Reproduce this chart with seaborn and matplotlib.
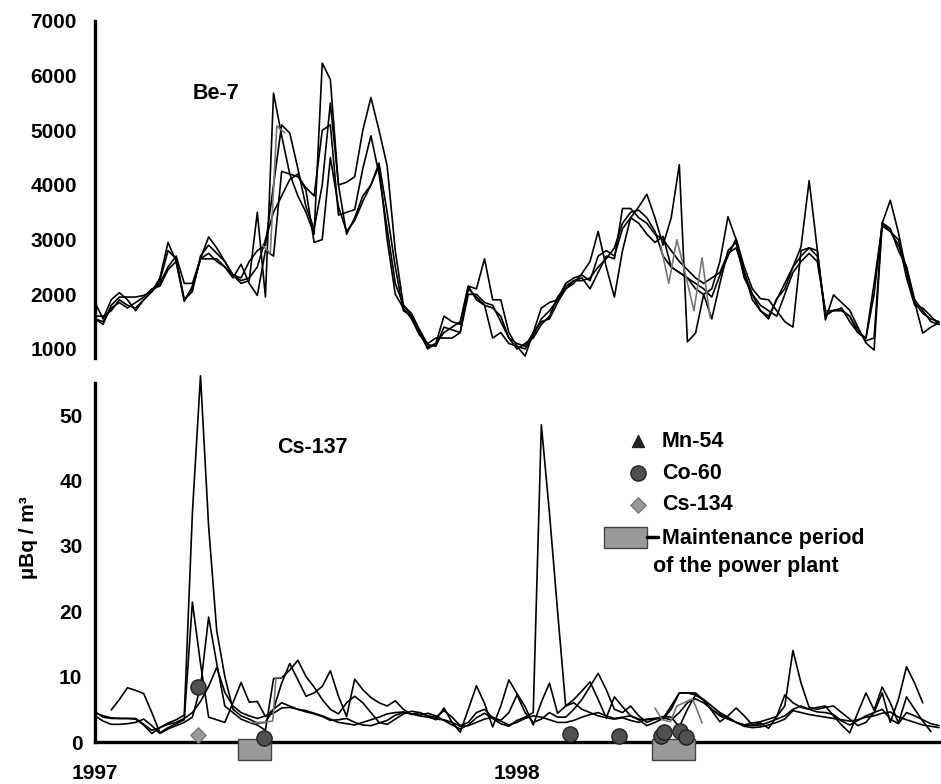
import numpy as np
import pandas as pd
import matplotlib
matplotlib.use("Agg")
import matplotlib.pyplot as plt
import seaborn as sns
from matplotlib.patches import Rectangle

nan = np.nan

# ---------------- data (weekly samples, week 0 = start of 1997) ----------------
weeks = list(range(105))

be7_a = [1850, 1550, 1900, 2030, 1900, 1700, 1900, 2050, 2300, 2950,
         2600, 1870, 2150, 2650, 3050, 2850, 2600, 2350, 2200, 2250,
         3500, 1950, 5680, 4900, 4200, 3800, 3500, 3100, 6230, 5930,
         4000, 4050, 4150, 5000, 5600, 5000, 4350, 2800, 1800, 1600,
         1300, 1030, 1100, 1600, 1500, 1450, 2150, 2100, 2650, 1900,
         1900, 1300, 1050, 870, 1300, 1750, 1850, 1900, 2100, 2200,
         2380, 2600, 3150, 2500, 1950, 2800, 3400, 3600, 3830, 3400,
         2900, 3400, 4370, 1130, 1290, 2000, 2100, 2600, 3420, 3000,
         2400, 1900, 1700, 1550, 1920, 2100, 2500, 2870, 4080, 2820,
         1530, 1990, 1850, 1710, 1400, 1110, 980, 3300, 3720, 3130,
         2400, 1860, 1290, 1400, 1480]
be7_b = [1550, 1450, 1800, 1950, 1950, 1950, 1980, 2050, 2250, 2800,
         2650, 1900, 2050, 2700, 2900, 2750, 2600, 2350, 2300, 2600,
         2800, 2900, 4000, 5100, 4950, 4300, 3600, 3200, 4000, 5500,
         4000, 3100, 3400, 3800, 4000, 4350, 3000, 2000, 1750, 1550,
         1250, 1100, 1200, 1200, 1200, 1300, 2100, 1950, 1800, 1200,
         1300, 1100, 1050, 1000, 1250, 1550, 1700, 1900, 2200, 2300,
         2350, 2250, 2700, 2800, 2700, 3200, 3400, 3300, 3100, 2950,
         3060, 2500, 2400, 2300, 2200, 2100, 1950, 2350, 2700, 3020,
         2500, 2100, 1920, 1900, 1700, 1500, 1400, 2800, 2850, 2800,
         1600, 1710, 1710, 1600, 1350, 1150, 1200, 3310, 3200, 2800,
         2500, 1900, 1700, 1500, 1450]
be7_c = [1600, 1600, 1700, 1900, 1800, 1750, 1900, 2050, 2200, 2500,
         2700, 2200, 2200, 2650, 2750, 2600, 2500, 2300, 2550, 2200,
         1980, 2800, 2700, 4250, 4200, 4150, 3950, 3800, 5000, 5100,
         3450, 3500, 3550, 4300, 4900, 4200, 3200, 2200, 1800, 1650,
         1350, 1080, 1050, 1400, 1350, 1300, 2000, 2000, 1850, 1800,
         1500, 1200, 1000, 1100, 1200, 1450, 1600, 1950, 2150, 2250,
         2250, 2300, 2500, 2650, 2850, 3300, 3500, 3540, 3400, 3150,
         2700, 2500, 2400, 2300, 2100, 2000, 1550, 2200, 2800, 2950,
         2300, 2000, 1800, 1700, 1600, 2000, 2400, 2600, 2750, 2600,
         1700, 1700, 1750, 1500, 1300, 1200, 2200, 3250, 3150, 2900,
         2500, 1850, 1650, 1550, 1500]
be7_d = [1550, 1500, 1750, 1850, 1750, 1850, 1950, 2100, 2150, 2450,
         2600, 1900, 2100, 2650, 2650, 2650, 2500, 2350, 2250, 2300,
         2500, 3000, 3500, 3800, 4100, 4200, 3900, 2950, 3000, 4500,
         3600, 3150, 3350, 3700, 4000, 4400, 3500, 2500, 1700, 1600,
         1300, 1000, 1100, 1300, 1400, 1500, 2150, 1900, 1800, 1750,
         1600, 1200, 1100, 1050, 1300, 1500, 1550, 1850, 2100, 2250,
         2300, 2100, 2400, 2700, 2650, 3570, 3570, 3400, 3300, 3100,
         3000, 2800, 2600, 2450, 2300, 2200, 2300, 2400, 2750, 2850,
         2400, 2000, 1700, 1600, 1900, 2200, 2500, 2700, 2850, 2700,
         1650, 1700, 1700, 1600, 1300, 1200, 2000, 3300, 3150, 3000,
         2300, 1800, 1750, 1600, 1450]

# grey station, only during the maintenance periods
be7_grey_weeks = [20.6, 21.6, 22.4, 23.4, 69.7, 70.7, 71.7, 72.7, 73.8, 74.8, 75.8]
be7_grey_vals = [2900, 2750, 5080, 4950, 2900, 2200, 3000, 2400, 1700, 2670, 1570]
be7_grey_seg = [1, 1, 1, 1, 2, 2, 2, 2, 2, 2, 2]

cs137_p = [4.5, 4.0, 3.7, 3.6, 3.6, 3.5, 2.6, 1.3, 2.2, 2.9,
           3.4, 4.1, 35.0, 56.0, 33.0, 17.0, 10.0, 5.0, 4.0, 3.5,
           2.9, 3.0, 5.0, 6.0, 5.5, 5.0, 4.6, 4.3, 3.9, 3.3,
           3.4, 3.6, 3.0, 2.6, 2.5, 2.9, 3.3, 4.1, 4.5, 4.3,
           4.1, 4.4, 4.0, 3.3, 2.6, 2.0, 2.6, 3.7, 4.4, 3.6,
           2.8, 2.4, 3.3, 3.8, 4.5, 48.5, 35.0, 20.0, 5.5, 6.0,
           5.0, 4.5, 4.0, 3.7, 3.5, 3.7, 3.3, 3.0, 3.5, 3.6,
           3.5, 5.0, 7.5, 7.5, 7.2, 6.4, 5.0, 4.0, 3.5, 3.0,
           2.6, 2.9, 3.1, 3.5, 3.9, 5.5, 14.0, 9.0, 5.3, 5.0,
           5.3, 5.5, 4.5, 3.5, 2.5, 3.0, 4.5, 7.5, 3.0, 6.5,
           11.5, 9.0, 6.0, nan, nan]
cs137_q = [nan, nan, 4.9, 6.5, 8.3, 7.9, 7.4, 4.5, 1.4, 2.2,
           2.8, 3.4, 21.4, 12.0, 3.8, 3.4, 3.0, 6.0, 9.1, 6.1,
           6.2, 3.9, 5.0, 9.0, 12.0, 9.5, 7.0, 7.5, 8.5, 10.9,
           7.0, 3.9, 9.6, 8.0, 6.8, 6.0, 5.5, 6.3, 5.0, 4.2,
           4.5, 4.0, 3.4, 5.2, 3.0, 1.5, 5.0, 8.6, 5.9, 2.3,
           5.5, 9.5, 7.4, 5.4, 2.6, 6.1, 9.0, 4.4, 5.5, 6.5,
           7.8, 9.2, 6.5, 3.7, 6.9, 5.4, 4.0, 3.4, 2.5, 3.0,
           3.6, 5.5, 7.5, 7.5, 7.5, 6.4, 4.8, 3.1, 4.0, 5.2,
           4.0, 2.6, 2.9, 2.1, 3.9, 7.2, 6.0, 5.3, 5.0, 5.3,
           5.5, 4.0, 2.6, 1.4, 4.5, 7.5, 4.9, 8.4, 6.0, 2.9,
           6.9, 5.0, 3.2, 1.6, nan]
cs137_r = [4.0, 3.2, 2.7, 2.7, 2.8, 3.0, 3.5, 2.5, 1.3, 2.0,
           2.5, 3.0, 3.8, 8.4, 19.1, 12.0, 5.5, 4.5, 3.5, 3.0,
           2.6, 1.8, 9.7, 9.8, 11.0, 12.5, 10.0, 8.4, 6.5, 5.0,
           4.3, 6.0, 7.0, 6.0, 4.5, 3.0, 2.7, 3.5, 4.3, 4.7,
           4.5, 4.0, 3.8, 4.8, 3.8, 2.5, 3.0, 4.5, 5.0, 3.7,
           3.3, 4.5, 7.2, 4.5, 3.0, 3.5, 4.5, 3.8, 3.8, 5.0,
           6.5, 8.5, 10.5, 8.0, 5.0, 4.5, 5.5, 4.0, 3.0, 3.5,
           3.9, 3.8, 2.3, 5.0, 7.2, 6.5, 5.5, 4.5, 3.8, 3.0,
           2.6, 2.5, 2.6, 3.0, 3.5, 4.0, 5.0, 5.5, 5.0, 4.6,
           4.5, 4.2, 3.2, 2.6, 3.3, 4.0, 4.5, 5.0, 3.5, 2.8,
           4.5, 4.0, 3.4, 2.8, 2.5]
cs137_s = [4.6, 3.8, 3.6, 3.6, 3.6, 3.6, 2.7, 1.8, 2.2, 2.7,
           3.0, 3.6, 4.5, 6.2, 8.5, 11.4, 7.6, 5.5, 4.5, 4.0,
           3.6, 4.0, 4.4, 5.2, 5.3, 5.0, 4.8, 4.4, 4.0, 3.5,
           3.0, 2.8, 2.6, 3.0, 3.4, 3.8, 4.3, 4.5, 4.6, 4.3,
           4.0, 3.8, 3.5, 3.4, 3.0, 2.4, 2.5, 3.0, 3.5, 3.8,
           3.2, 2.6, 3.0, 3.6, 4.0, 3.8, 3.4, 3.0, 3.0, 3.3,
           3.8, 4.2, 4.5, 4.0, 3.6, 3.8, 4.0, 3.5, 3.4, 3.6,
           3.7, 3.4, 4.5, 6.0, 6.6, 6.0, 5.0, 4.2, 3.6, 3.0,
           2.4, 2.2, 2.3, 2.6, 3.0, 3.5, 4.8, 4.5, 4.2, 4.0,
           3.8, 3.6, 3.4, 3.2, 3.4, 3.8, 4.0, 4.4, 4.6, 3.8,
           3.4, 3.0, 2.6, 2.4, 2.2]

cs137_grey_weeks = [19.1, 20.7, 21.9, 22.3, 23.0, 69.0, 69.9, 70.9, 71.7, 73.6, 74.0, 74.8]
cs137_grey_vals = [3.0, 3.0, 3.2, 9.8, 9.9, 5.2, 3.4, 3.1, 5.5, 6.6, 5.5, 2.9]
cs137_grey_seg = [1, 1, 1, 1, 1, 2, 2, 2, 2, 2, 2, 2]

co60_weeks = [12.7, 20.8, 58.5, 64.6, 69.7, 70.1, 72.1, 72.8]
co60_vals = [8.4, 0.6, 1.2, 0.9, 0.9, 1.5, 1.7, 0.8]
cs134_weeks = [12.7]
cs134_vals = [1.1]
maint_start_weeks = [17.6, 68.6]
maint_end_weeks = [21.7, 73.9]

year_ticks = [1997, 1998]
be7_ticks = [1000, 2000, 3000, 4000, 5000, 6000, 7000]
cs137_ticks = [0, 10, 20, 30, 40, 50]
legend_labels = ["Mn-54", "Co-60", "Cs-134"]


def to_year(w):
    return 1997 + np.asarray(w, dtype=float) / 52.0


# ---------------- style ----------------
sns.set_style("white")
plt.rcParams["font.family"] = ["Liberation Sans", "DejaVu Sans"]
plt.rcParams["font.weight"] = "bold"
plt.rcParams["axes.edgecolor"] = "black"
plt.rcParams["xtick.color"] = "black"
plt.rcParams["ytick.color"] = "black"
plt.rcParams["text.color"] = "black"

W, H = 941, 784
fig = plt.figure(figsize=(W / 100, H / 100), dpi=100)
fig.patch.set_facecolor("white")

TICK_FS = 15
TXT_FS = 15.5
LW = 1.2


def fx(px):
    return px / W


def fy(py):
    return 1 - py / H


ax1 = fig.add_axes([fx(95), fy(358), fx(846), (358 - 21) / H])
ax2 = fig.add_axes([fx(95), fy(742), fx(846), (742 - 383) / H])

XMIN, XMAX = 1997.0, 1997.0 + 846 / 422

# ---------------- top panel: Be-7 ----------------
top = pd.DataFrame({"year": to_year(weeks), "A": be7_a, "B": be7_b,
                    "C": be7_c, "D": be7_d})
top = top.melt(id_vars="year", var_name="station", value_name="value").dropna()
sns.lineplot(data=top, x="year", y="value", hue="station",
             palette={k: "black" for k in "ABCD"}, estimator=None,
             legend=False, lw=LW, ax=ax1)
tg = pd.DataFrame({"year": to_year(be7_grey_weeks), "value": be7_grey_vals,
                   "seg": be7_grey_seg})
sns.lineplot(data=tg, x="year", y="value", units="seg", estimator=None,
             color="#777777", lw=LW, ax=ax1)

ax1.set_xlim(XMIN, XMAX)
ax1.set_ylim(835, 7000)
ax1.set_yticks(be7_ticks)
ax1.set_xticks([])
ax1.set_xlabel("")
ax1.set_ylabel("")
for s in ["top", "right", "bottom"]:
    ax1.spines[s].set_visible(False)
ax1.spines["left"].set_linewidth(2.4)
ax1.tick_params(axis="y", direction="in", length=6, width=1.6, pad=13,
                labelsize=TICK_FS)
ax1.text(0.143, 0.786, "Be-7", transform=ax1.transAxes, ha="center",
         va="center", fontsize=TXT_FS, fontweight="bold")

# ---------------- bottom panel: Cs-137 ----------------
bot = pd.DataFrame({"year": to_year(weeks), "P": cs137_p, "Q": cs137_q,
                    "R": cs137_r, "S": cs137_s})
bot = bot.melt(id_vars="year", var_name="station", value_name="value").dropna()
sns.lineplot(data=bot, x="year", y="value", hue="station",
             palette={k: "black" for k in "PQRS"}, estimator=None,
             legend=False, lw=LW, ax=ax2, clip_on=False)
bg = pd.DataFrame({"year": to_year(cs137_grey_weeks), "value": cs137_grey_vals,
                   "seg": cs137_grey_seg})
sns.lineplot(data=bg, x="year", y="value", units="seg", estimator=None,
             color="#777777", lw=LW, ax=ax2)

for s0, s1 in zip(maint_start_weeks, maint_end_weeks):
    x0, x1 = to_year(s0), to_year(s1)
    ax2.add_patch(Rectangle((x0, -2.7), x1 - x0, 3.1, facecolor="#999999",
                            edgecolor="#444444", lw=1.0, clip_on=False,
                            zorder=6))

sns.scatterplot(x=to_year(co60_weeks), y=co60_vals, marker="o", s=120,
                color="#505050", edgecolor="#222222", linewidth=1.0,
                ax=ax2, clip_on=False, zorder=7, legend=False)
sns.scatterplot(x=to_year(cs134_weeks), y=cs134_vals, marker="D", s=60,
                color="#9a9a9a", edgecolor="#777777", linewidth=1.0,
                ax=ax2, clip_on=False, zorder=7, legend=False)

ax2.set_xlim(XMIN, XMAX)
ax2.set_ylim(0, 54.9)
ax2.set_yticks(cs137_ticks)
ax2.set_xticks(year_ticks)
ax2.set_xticklabels([str(y) for y in year_ticks])
ax2.set_xlabel("")
ax2.set_ylabel("")
for s in ["top", "right"]:
    ax2.spines[s].set_visible(False)
ax2.spines["left"].set_linewidth(2.4)
ax2.spines["bottom"].set_linewidth(2.4)
ax2.tick_params(axis="y", direction="out", length=7, width=1.6, pad=2,
                labelsize=TICK_FS)
ax2.tick_params(axis="x", direction="out", length=6, width=2.2, pad=10,
                labelsize=TICK_FS)
ax2.text(0.2565, 0.8217, "Cs-137", transform=ax2.transAxes, ha="center",
         va="center", fontsize=TXT_FS, fontweight="bold")

# legend (hand-placed, as in the original)
lx = 0.6418
ly = [0.8384, 0.7493, 0.6602]
ax2.scatter([lx], [ly[0]], marker="^", s=75, color="#222222",
            transform=ax2.transAxes, clip_on=False, zorder=8)
ax2.scatter([lx], [ly[1]], marker="o", s=120, color="#505050",
            edgecolor="#222222", linewidth=1.0, transform=ax2.transAxes,
            clip_on=False, zorder=8)
ax2.scatter([lx], [ly[2]], marker="D", s=60, color="#9a9a9a",
            edgecolor="#777777", linewidth=1.0, transform=ax2.transAxes,
            clip_on=False, zorder=8)
for lab, yy in zip(legend_labels, ly):
    ax2.text(0.6702, yy, lab, transform=ax2.transAxes, ha="left",
             va="center", fontsize=TXT_FS, fontweight="bold")
ax2.add_patch(Rectangle((0.6017, 0.5404), 0.0508, 0.0585,
                        transform=ax2.transAxes, facecolor="#999999",
                        edgecolor="#444444", lw=1.0, clip_on=False, zorder=8))
ax2.plot([0.6525, 0.6655], [0.571, 0.571], color="black", lw=2.5,
         transform=ax2.transAxes, clip_on=False, zorder=8)
ax2.text(0.6702, 0.5682, "Maintenance period", transform=ax2.transAxes,
         ha="left", va="center", fontsize=TXT_FS, fontweight="bold")
ax2.text(0.6596, 0.4875, "of the power plant", transform=ax2.transAxes,
         ha="left", va="center", fontsize=TXT_FS, fontweight="bold")

fig.text(fx(29), fy(538), "µBq / m³", rotation=90, ha="center",
         va="center", fontsize=15, fontweight="bold")

fig.savefig("out.png", dpi=100, facecolor="white")
